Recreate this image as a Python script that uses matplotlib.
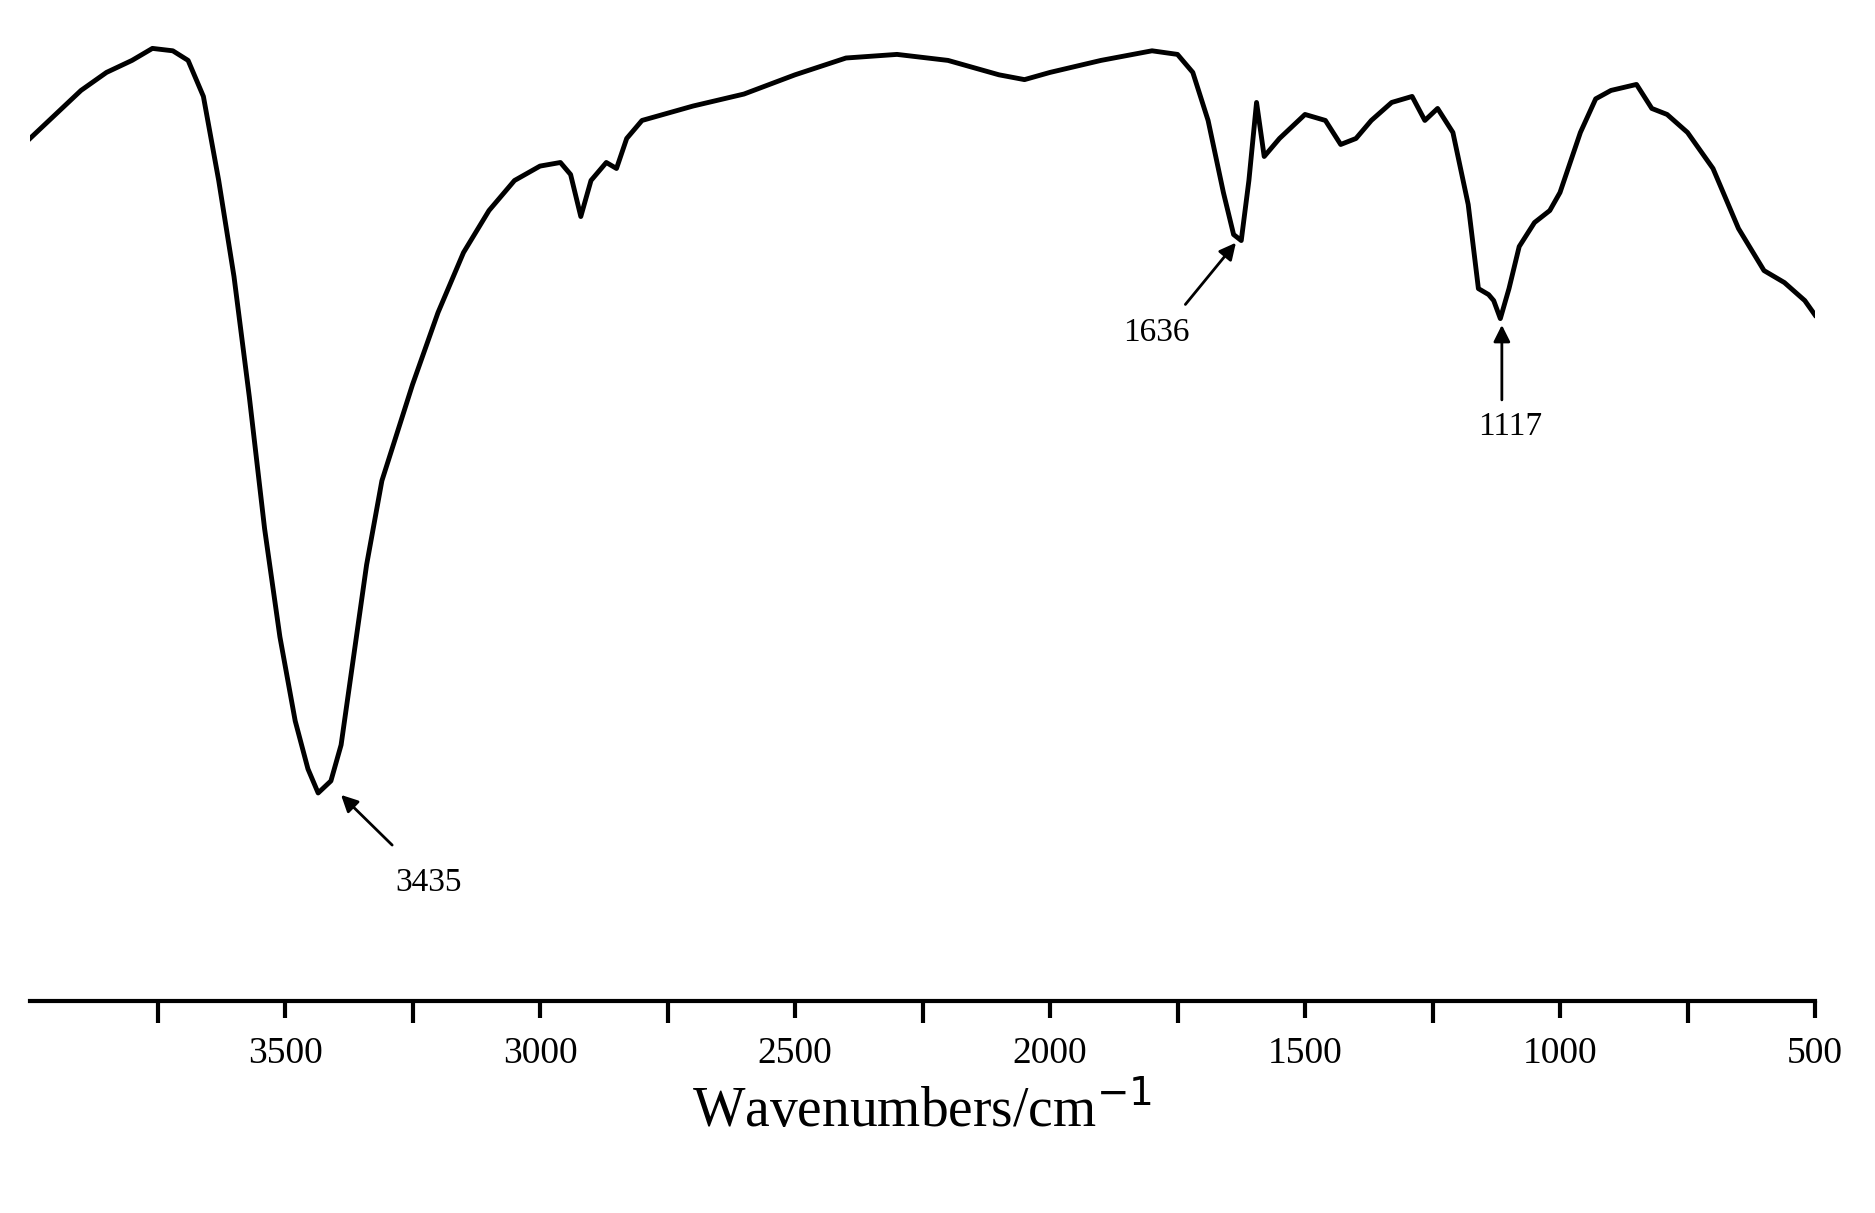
import matplotlib
matplotlib.use("Agg")
import matplotlib.pyplot as plt
import numpy as np

wavenumber = [4000,3950,3900,3850,3800,3760,3720,3690,3660,3630,3600,3570,3540,3510,3480,3455,3435,3410,3390,3370,3340,3310,3280,3250,3200,3150,3100,3050,3000,2960,2940,2920,2900,2870,2850,2830,2800,2700,2600,2500,2400,2300,2200,2100,2050,2000,1900,1800,1750,1720,1690,1660,1640,1625,1610,1595,1580,1550,1500,1460,1430,1400,1370,1330,1290,1265,1240,1210,1180,1160,1140,1130,1117,1100,1080,1050,1020,1000,960,930,900,850,820,790,750,700,650,600,560,520,500]
pix = [115,95,75,60,50,40,42,50,80,150,230,330,440,530,600,640,660,650,620,560,470,400,360,320,260,210,175,150,138,135,145,180,150,135,140,115,100,88,78,62,48,45,50,62,66,60,50,42,45,60,100,160,195,200,150,85,130,115,95,100,120,115,100,85,80,100,90,110,170,240,245,250,265,240,205,185,175,160,110,82,75,70,90,95,110,140,190,225,235,250,262]
transmittance = [(850 - p) / 8 for p in pix]

fig = plt.figure(figsize=(18.75, 12.13), dpi=100)
ax = fig.add_axes([0.016, 0.175, 0.952, 0.795])
ax.plot(wavenumber, transmittance, color="black", lw=3.5)
ax.set_xlim(4000, 500)
ax.set_ylim(2.125, 102.5)
for s in ["top", "left", "right"]:
    ax.spines[s].set_visible(False)
ax.spines["bottom"].set_linewidth(3)
ax.set_yticks([])
ax.set_xticks([3500, 3000, 2500, 2000, 1500, 1000, 500])
ax.set_xticks([3750, 3250, 2750, 2250, 1750, 1250, 750], minor=True)
ax.tick_params(axis="x", which="major", direction="out", length=12, width=3, labelsize=27, pad=14)
ax.tick_params(axis="x", which="minor", direction="out", length=16, width=3)
for t in ax.get_xticklabels():
    t.set_fontfamily("Liberation Serif")
ax.set_xlabel("Wavenumbers/cm$^{-1}$", fontsize=40, family="Liberation Serif", labelpad=8)
plt.rcParams["mathtext.fontset"] = "custom"
plt.rcParams["mathtext.rm"] = "Liberation Serif"

def T(p):
    return (850 - p) / 8

ap = dict(arrowstyle="-|>", color="black", lw=2, mutation_scale=25)
ax.annotate("", xy=(3394, T(660)), xytext=(3286, T(705)), arrowprops=ap)
ax.text(3218, T(735), "3435", fontsize=24, family="Liberation Serif", ha="center", va="center")
ax.annotate("", xy=(1632, T(200)), xytext=(1738, T(255)), arrowprops=ap)
ax.text(1792, T(277), "1636", fontsize=24, family="Liberation Serif", ha="center", va="center")
ax.annotate("", xy=(1114, T(268)), xytext=(1114, T(335)), arrowprops=ap)
ax.text(1097, T(355), "1117", fontsize=24, family="Liberation Serif", ha="center", va="center")

fig.savefig("out.png", dpi=100)
